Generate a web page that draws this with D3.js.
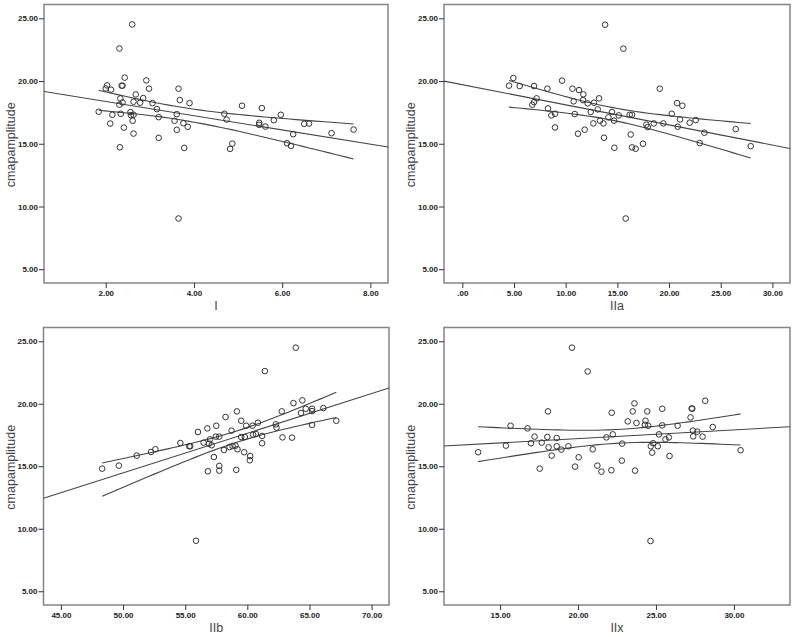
<!DOCTYPE html>
<html>
<head>
  <meta charset="utf-8">
  <title>cmapamplitude scatter plots</title>
  <script src="https://d3js.org/d3.v7.min.js"></script>
  <style>
    body {
      margin: 0;
      padding: 0;
      background: #fff;
    }
    svg text {
      font-family: "Liberation Sans", Arial, sans-serif;
    }
    .tick-label {
      font-size: 8px;
      font-weight: bold;
      fill: #222;
    }
    .axis-title {
      font-size: 12.5px;
      fill: #444;
    }
  </style>
</head>
<body>
<div id="chart"></div>
<script>
  // cmapamplitude against each predictor
  var iX = [1.84, 2.03, 2.00, 2.12, 2.15, 2.10, 2.31, 2.31, 2.33, 2.34, 2.32, 2.36, 2.38, 2.38, 2.41,
            2.43, 2.56, 2.57, 2.60, 2.61, 2.63, 2.63, 2.63, 2.68, 2.78, 2.85, 2.92, 2.98, 3.06, 3.16,
            3.20, 3.20, 3.56, 3.61, 3.61, 3.65, 3.65, 3.68, 3.76, 3.78, 3.86, 3.90, 4.69, 4.74, 4.82,
            4.87, 5.09, 5.48, 5.48, 5.54, 5.62, 5.81, 5.97, 6.11, 6.20, 6.25, 6.50, 6.61, 7.12, 7.62];
  var iY = [17.55, 19.65, 19.41, 19.31, 17.31, 16.61, 22.59, 18.11, 18.61, 17.39, 14.72, 19.63, 19.63, 18.29, 16.29,
            20.27, 17.52, 17.28, 24.51, 16.83, 18.35, 17.31, 15.81, 18.93, 18.27, 18.64, 20.05, 19.39, 18.24, 17.76,
            17.12, 15.47, 16.83, 17.36, 16.11, 19.39, 9.04, 18.48, 16.64, 14.67, 16.35, 18.24, 17.39, 16.93, 14.59,
            15.01, 18.03, 16.67, 16.51, 17.84, 16.37, 16.88, 17.31, 15.04, 14.83, 15.76, 16.59, 16.61, 15.84, 16.13];

  var iiaX = [4.52, 4.94, 5.55, 6.94, 6.77, 6.94, 7.19, 8.23, 8.29, 8.61, 8.97, 8.97, 9.65, 10.65, 10.77,
              10.87, 11.19, 11.29, 11.71, 11.68, 11.84, 12.13, 12.42, 12.68, 12.74, 13.10, 13.23, 13.32, 13.65, 13.71,
              13.81, 14.13, 14.48, 14.68, 14.71, 15.13, 15.58, 15.81, 16.19, 16.42, 16.29, 16.42, 16.77, 17.48, 17.81,
              17.94, 18.52, 19.10, 19.45, 20.26, 20.77, 20.84, 21.06, 21.29, 22.00, 22.58, 22.97, 23.42, 26.45, 27.90];
  var iiaY = [19.63, 20.24, 19.60, 19.60, 18.11, 18.32, 18.62, 19.39, 17.82, 17.26, 17.39, 16.30, 20.03, 19.39, 18.38,
              17.37, 15.80, 19.28, 18.94, 18.48, 16.12, 18.22, 17.53, 16.62, 18.27, 17.74, 18.62, 16.84, 16.62, 15.48,
              24.49, 17.10, 17.53, 16.84, 14.68, 17.26, 22.58, 9.04, 17.31, 17.31, 15.74, 14.71, 14.60, 15.00, 16.52,
              16.33, 16.62, 19.39, 16.62, 17.39, 18.24, 16.36, 16.94, 18.03, 16.68, 16.89, 15.05, 15.88, 16.17, 14.81];

  var iibX = [48.32, 49.66, 51.10, 52.25, 52.60, 54.61, 55.33, 55.41, 55.87, 56.03, 56.48, 56.78, 56.83, 56.91, 56.99,
              57.13, 57.31, 57.50, 57.47, 57.74, 57.74, 57.74, 58.12, 58.25, 58.57, 58.73, 58.81, 59.05, 59.11, 59.16,
              59.21, 59.51, 59.51, 59.75, 59.80, 59.91, 60.23, 60.20, 60.42, 60.47, 60.69, 60.85, 61.19, 61.19, 61.41,
              62.29, 62.35, 62.77, 62.83, 63.60, 63.71, 63.90, 64.32, 64.43, 64.70, 65.21, 65.21, 65.21, 66.12, 67.16];
  var iibY = [14.81, 15.05, 15.85, 16.14, 16.36, 16.86, 16.60, 16.60, 9.04, 17.74, 16.89, 18.03, 14.60, 16.81, 17.15,
              16.68, 15.74, 18.24, 17.37, 17.37, 15.03, 14.65, 16.30, 18.94, 16.54, 17.85, 16.62, 16.65, 14.71, 19.39,
              16.36, 18.64, 17.34, 16.12, 17.34, 18.24, 15.82, 15.48, 18.24, 17.53, 17.58, 18.48, 17.42, 16.84, 22.61,
              18.35, 18.09, 19.39, 17.31, 17.29, 20.05, 24.49, 19.26, 20.27, 19.60, 19.60, 19.41, 18.30, 19.65, 18.64];

  var iixX = [13.59, 15.37, 15.67, 16.76, 16.98, 17.21, 17.54, 17.67, 18.03, 18.07, 18.11, 18.31, 18.63, 18.63, 18.93,
              19.38, 19.61, 19.81, 20.04, 20.62, 20.94, 21.24, 21.50, 21.82, 22.14, 22.16, 22.23, 22.81, 22.83, 23.19,
              23.51, 23.62, 23.66, 23.75, 24.29, 24.33, 24.44, 24.50, 24.65, 24.67, 24.76, 24.82, 25.12, 25.19, 25.40,
              25.40, 25.61, 25.83, 25.87, 26.39, 27.22, 27.29, 27.33, 27.37, 27.39, 27.65, 27.99, 28.16, 28.64, 30.43];
  var iixY = [16.12, 16.65, 18.24, 18.03, 16.84, 17.37, 14.81, 16.89, 17.34, 19.39, 16.52, 15.85, 17.26, 16.60, 16.33,
              16.60, 24.49, 14.97, 15.72, 22.58, 16.36, 15.05, 14.57, 17.31, 14.68, 19.28, 17.55, 15.45, 16.81, 18.59,
              19.39, 20.03, 14.65, 18.46, 18.32, 18.64, 19.39, 18.24, 9.02, 16.60, 16.09, 16.84, 16.60, 17.55, 19.60,
              18.27, 17.15, 17.31, 15.82, 18.24, 18.91, 19.63, 19.60, 17.85, 17.39, 17.77, 17.37, 20.24, 18.14, 16.28];

  var yTicks = [5, 10, 15, 20, 25];
  var iTicks = [2, 4, 6, 8];
  var iiaTicks = [0, 5, 10, 15, 20, 25, 30];
  var iibTicks = [45, 50, 55, 60, 65, 70];
  var iixTicks = [15, 20, 25, 30];

  var yLabel = "cmapamplitude";

  var width = 796, height = 637;
  var svg = d3.select("#chart").append("svg")
      .attr("width", width)
      .attr("height", height);

  var fmt = function(v) {
    return d3.format(".2f")(v).replace(/^0\./, ".");
  };

  var panels = [
    { xs: iX,   ys: iY,   ticks: iTicks,   title: "I",   xDomain: [0.6, 8.4],    box: [44, 4.5, 388, 283] },
    { xs: iiaX, ys: iiaY, ticks: iiaTicks, title: "IIa", xDomain: [-1.77, 31.7], box: [444, 4.5, 790, 283] },
    { xs: iibX, ys: iibY, ticks: iibTicks, title: "IIb", xDomain: [43.6, 71.4],  box: [43.5, 327.5, 389, 605] },
    { xs: iixX, ys: iixY, ticks: iixTicks, title: "IIx", xDomain: [11.4, 33.6],  box: [444, 327.5, 790, 605] }
  ];

  panels.forEach(function(p, k) {
    var x0 = p.box[0], y0 = p.box[1], x1 = p.box[2], y1 = p.box[3];
    var x = d3.scaleLinear().domain(p.xDomain).range([x0, x1]);
    var y = d3.scaleLinear().domain([3.9, 26.1]).range([y1, y0]);
    var g = svg.append("g");

    var clipId = "clip" + k;
    g.append("clipPath").attr("id", clipId)
      .append("rect")
        .attr("x", x0).attr("y", y0)
        .attr("width", x1 - x0).attr("height", y1 - y0);

    // frame
    g.append("rect")
      .attr("x", x0).attr("y", y0)
      .attr("width", x1 - x0).attr("height", y1 - y0)
      .attr("fill", "none")
      .attr("stroke", "#858585")
      .attr("stroke-width", 1.5);

    // y axis
    var ya = g.append("g").attr("transform", "translate(" + x0 + ",0)")
      .call(d3.axisLeft(y).tickValues(yTicks).tickSize(5).tickPadding(1).tickFormat(fmt));
    ya.select(".domain").remove();
    ya.selectAll("line").attr("stroke", "#333");
    ya.selectAll("text").attr("class", "tick-label").attr("font-family", null).attr("font-size", null);

    // x axis
    var xa = g.append("g").attr("transform", "translate(0," + y1 + ")")
      .call(d3.axisBottom(x).tickValues(p.ticks).tickSize(5).tickPadding(2).tickFormat(fmt));
    xa.select(".domain").remove();
    xa.selectAll("line").attr("stroke", "#333");
    xa.selectAll("text").attr("class", "tick-label").attr("font-family", null).attr("font-size", null);

    // axis titles
    g.append("text")
      .attr("class", "axis-title")
      .attr("x", (x0 + x1) / 2)
      .attr("y", y1 + 27)
      .attr("text-anchor", "middle")
      .text(p.title);

    g.append("text")
      .attr("class", "axis-title")
      .attr("transform", "translate(" + (x0 - 29) + "," + ((y0 + y1) / 2 + 1) + ") rotate(-90)")
      .attr("text-anchor", "middle")
      .text(yLabel);

    // linear fit with 95% confidence band for the mean
    var n = p.xs.length;
    var mx = d3.mean(p.xs), my = d3.mean(p.ys);
    var sxx = d3.sum(p.xs, function(v) { return (v - mx) * (v - mx); });
    var sxy = d3.sum(p.xs, function(v, i) { return (v - mx) * (p.ys[i] - my); });
    var b = sxy / sxx, a = my - b * mx;
    var sse = d3.sum(p.xs, function(v, i) { var r = p.ys[i] - (a + b * v); return r * r; });
    var s = Math.sqrt(sse / (n - 2));
    var t = 2.0017;

    var lineGen = d3.line().x(function(d) { return x(d[0]); }).y(function(d) { return y(d[1]); });

    g.append("path")
      .attr("clip-path", "url(#" + clipId + ")")
      .attr("d", lineGen([[p.xDomain[0], a + b * p.xDomain[0]], [p.xDomain[1], a + b * p.xDomain[1]]]))
      .attr("fill", "none")
      .attr("stroke", "#444")
      .attr("stroke-width", 1.1);

    var xmin = d3.min(p.xs), xmax = d3.max(p.xs);
    var grid = d3.range(0, 41).map(function(i) { return xmin + (xmax - xmin) * i / 40; });
    [-1, 1].forEach(function(sign) {
      var pts = grid.map(function(v) {
        var se = s * Math.sqrt(1 / n + (v - mx) * (v - mx) / sxx);
        return [v, a + b * v + sign * t * se];
      });
      g.append("path")
        .attr("d", lineGen(pts))
        .attr("fill", "none")
        .attr("stroke", "#444")
        .attr("stroke-width", 1.1);
    });

    // points
    g.selectAll("circle.pt")
      .data(p.xs.map(function(v, i) { return [v, p.ys[i]]; }))
      .enter().append("circle")
        .attr("class", "pt")
        .attr("cx", function(d) { return x(d[0]); })
        .attr("cy", function(d) { return y(d[1]); })
        .attr("r", 2.8)
        .attr("fill", "none")
        .attr("stroke", "#333")
        .attr("stroke-width", 1);
  });
</script>
</body>
</html>
